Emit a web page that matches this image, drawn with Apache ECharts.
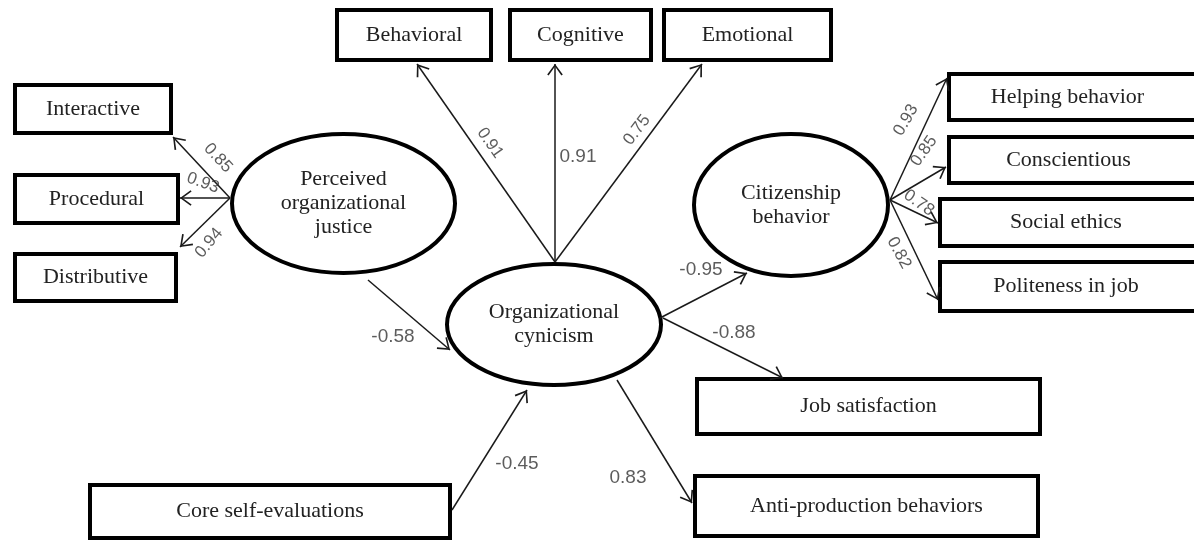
<!DOCTYPE html>
<html>
<head>
<meta charset="utf-8">
<script src="https://cdn.jsdelivr.net/npm/echarts@6/dist/echarts.min.js"></script>
<style>
  html, body { margin: 0; padding: 0; background: #fff; }
  #main { width: 1194px; height: 544px; }
</style>
</head>
<body>
<div id="main"></div>
<script>
// observed indicators (boxes) and latent factors (ellipses)
var boxNames = ['Behavioral', 'Cognitive', 'Emotional', 'Interactive', 'Procedural', 'Distributive',
  'Helping behavior', 'Conscientious', 'Social ethics', 'Politeness in job',
  'Job satisfaction', 'Anti-production behaviors', 'Core self-evaluations'];
var latentNames = ['Perceived\norganizational\njustice', 'Organizational\ncynicism', 'Citizenship\nbehavior'];

// paths: from -> to, with standardized coefficients
var pathFrom = ['Perceived\norganizational\njustice', 'Perceived\norganizational\njustice', 'Perceived\norganizational\njustice',
  'Organizational\ncynicism', 'Organizational\ncynicism', 'Organizational\ncynicism',
  'Citizenship\nbehavior', 'Citizenship\nbehavior', 'Citizenship\nbehavior', 'Citizenship\nbehavior',
  'Perceived\norganizational\njustice', 'Core self-evaluations',
  'Organizational\ncynicism', 'Organizational\ncynicism', 'Organizational\ncynicism'];
var pathTo = ['Interactive', 'Procedural', 'Distributive',
  'Behavioral', 'Cognitive', 'Emotional',
  'Helping behavior', 'Conscientious', 'Social ethics', 'Politeness in job',
  'Organizational\ncynicism', 'Organizational\ncynicism',
  'Citizenship\nbehavior', 'Job satisfaction', 'Anti-production behaviors'];
var coefficients = [0.85, 0.93, 0.94, 0.91, 0.91, 0.75, 0.93, 0.85, 0.78, 0.82, -0.58, -0.45, -0.95, -0.88, 0.83];

// ---- layout (pixel space of the drawing) ----
// node: [centerX, centerY, width, height]  (stroke centre line)
var nodeLayout = {
  'Behavioral': [414, 35, 154, 50],
  'Cognitive': [580.5, 35, 141, 50],
  'Emotional': [747.5, 35, 167, 50],
  'Interactive': [93, 109, 156, 48],
  'Procedural': [96.5, 199, 163, 48],
  'Distributive': [95.5, 277.5, 161, 47],
  'Helping behavior': [1073.5, 97, 249, 46],
  'Conscientious': [1073.5, 160, 249, 46],
  'Social ethics': [1069, 222.5, 258, 47],
  'Politeness in job': [1069, 286.5, 258, 49],
  'Job satisfaction': [868.5, 406.5, 343, 55],
  'Anti-production behaviors': [866.5, 506, 343, 60],
  'Core self-evaluations': [270, 511.5, 360, 53],
  'Perceived\norganizational\njustice': [343.5, 203.5, 223, 139],
  'Organizational\ncynicism': [554, 324.5, 214, 121],
  'Citizenship\nbehavior': [791, 205, 194, 142]
};
// text centre shift for boxes cut by the right edge
var textShift = { 'Helping behavior': -6, 'Conscientious': -5, 'Social ethics': -3, 'Politeness in job': -3 };
// arrow start / end points, one per path
var pathStart = [[230, 198], [230, 198], [230, 198], [555, 262], [555, 262], [555, 262],
  [890, 200], [890, 200], [890, 200], [890, 200], [368, 280], [452, 510], [660, 318], [663, 318], [617, 380]];
var pathEnd = [[173, 137], [180, 198], [180, 247], [417, 64], [555, 64], [702, 64],
  [947, 78], [946, 167], [938, 223], [938, 300], [450, 350], [527, 390], [747, 273], [783, 378], [692, 503]];
// coefficient label position and rotation (deg)
var labelPos = [[218, 158], [203, 183], [209, 243], [490, 143], [578, 157], [637, 130],
  [906, 120], [924, 151], [919, 203], [899, 253], [393, 337], [517, 464], [701, 270], [734, 333], [628, 478]];
var labelRot = [-47, -20, 50, -55, 0, 53, 60, 55, -35, -62, 0, 0, 0, 0, 0];

// open V arrow head, tip at the centre of its bounding square
var arrowHead = 'path://M-1.6,-12.6 M21.6,-12.6 M10,-1 L17.8,9.6 L16.4,10.6 L10,1.6 L3.6,10.6 L2.2,9.6 Z';

var chart = echarts.init(document.getElementById('main'), null, { renderer: 'canvas' });

var nodeOrder = boxNames.concat(latentNames);
var nodeData = nodeOrder.map(function (n) {
  var l = nodeLayout[n];
  return [l[0], l[1], l[2], l[3], latentNames.indexOf(n) >= 0 ? 1 : 0];
});

function renderNode(params, api) {
  var name = nodeOrder[params.dataIndex];
  var c = api.coord([api.value(0), api.value(1)]);
  var s = api.size([api.value(2), api.value(3)]);
  var w = Math.abs(s[0]), h = Math.abs(s[1]);
  var border;
  if (api.value(4) === 1) {
    border = { type: 'ellipse', shape: { cx: c[0], cy: c[1], rx: w / 2, ry: h / 2 } };
  } else {
    border = { type: 'rect', shape: { x: c[0] - w / 2, y: c[1] - h / 2, width: w, height: h } };
  }
  border.style = { fill: '#fff', stroke: '#000', lineWidth: 4 };
  return {
    type: 'group',
    children: [border, {
      type: 'text',
      x: c[0] + (textShift[name] || 0),
      y: c[1],
      style: {
        text: name,
        align: 'center',
        verticalAlign: 'middle',
        fontFamily: 'Liberation Serif, Times New Roman, serif',
        fontSize: 22,
        lineHeight: 24,
        fill: '#222'
      }
    }]
  };
}

var lineData = [];
var labelData = [];
for (var i = 0; i < pathFrom.length; i++) {
  lineData.push({ name: pathFrom[i] + '->' + pathTo[i], coords: [pathStart[i], pathEnd[i]] });
  var rotated = labelRot[i] !== 0;
  labelData.push({
    value: [labelPos[i][0], labelPos[i][1]],
    label: {
      formatter: coefficients[i].toFixed(2),
      rotate: labelRot[i],
      fontSize: rotated ? 17 : 19
    }
  });
}

var option = {
  animation: false,
  backgroundColor: '#fff',
  grid: { left: 0, right: 0, top: 0, bottom: 0 },
  xAxis: { type: 'value', min: 0, max: 1194, show: false },
  yAxis: { type: 'value', min: 0, max: 544, inverse: true, show: false },
  series: [
    {
      type: 'lines',
      coordinateSystem: 'cartesian2d',
      z: 3,
      symbol: ['none', arrowHead],
      symbolSize: 23.2,
      lineStyle: { color: '#1a1a1a', width: 1.5, opacity: 1, curveness: 0 },
      silent: true,
      data: lineData
    },
    {
      type: 'custom',
      coordinateSystem: 'cartesian2d',
      z: 2,
      clip: false,
      silent: true,
      renderItem: renderNode,
      data: nodeData
    },
    {
      type: 'scatter',
      z: 5,
      clip: false,
      silent: true,
      symbolSize: 0,
      label: {
        show: true,
        position: 'inside',
        fontFamily: 'Liberation Sans, Arial, sans-serif',
        color: '#333'
      },
      emphasis: { disabled: true },
      data: labelData
    }
  ]
};

chart.setOption(option);
</script>
</body>
</html>
